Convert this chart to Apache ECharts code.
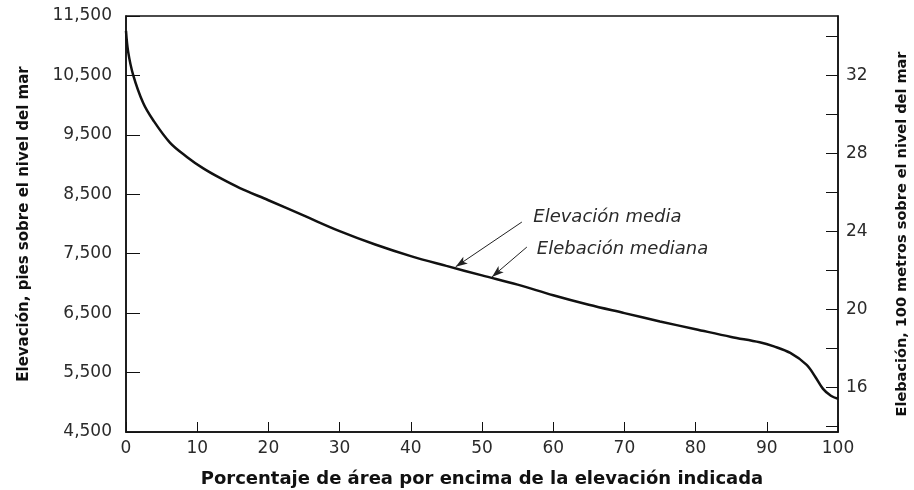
<!DOCTYPE html>
<html>
<head>
<meta charset="utf-8">
<script src="https://cdn.jsdelivr.net/npm/echarts@6/dist/echarts.min.js"></script>
<style>
html,body{margin:0;padding:0;background:#fff;}
#chart{width:914px;height:490px;}
</style>
</head>
<body>
<div id="chart"></div>
<script>
// Percent of area above the indicated elevation (x) and elevation in feet (y)
var areaPercent = [0, 0.3, 1, 2.4, 3.8, 6.2, 8.6, 10.8, 13.2, 16, 20, 25, 30, 35, 40, 45, 50, 55, 60, 65, 70, 75, 80, 85, 89, 91, 93.3, 95.6, 96.8, 97.9, 99, 100];
var elevationFt = [11250, 10900, 10510, 10040, 9750, 9365, 9125, 8940, 8775, 8605, 8400, 8140, 7880, 7655, 7460, 7295, 7135, 6980, 6800, 6640, 6500, 6360, 6230, 6100, 6010, 5940, 5830, 5630, 5430, 5225, 5110, 5060];

var xTickLabels = ['0','10','20','30','40','50','60','70','80','90','100'];
var leftTickLabels = ['4,500','5,500','6,500','7,500','8,500','9,500','10,500','11,500'];
var rightTickLabels = ['16','20','24','28','32'];

var ftMin = 4500, ftMax = 11500;
var ftToHm = 0.3048 / 100; // feet -> hundreds of metres

var annotationTexts = ['Elevación media', 'Elebación mediana'];
// [text anchor, arrow start, arrow tip] in (percent, feet)
var annotationText1 = [57.2, 8117], annotationFrom1 = [55.6, 8033], annotationTo1 = [46.3, 7280];
var annotationText2 = [57.7, 7579], annotationFrom2 = [56.3, 7612], annotationTo2 = [51.4, 7110];

var data = areaPercent.map(function (p, i) { return [p, elevationFt[i]]; });

var FONT = 'DejaVu Sans';
var chart = echarts.init(document.getElementById('chart'));
chart.setOption({
  animation: false,
  backgroundColor: '#ffffff',
  grid: { left: 126, right: 76, top: 16, bottom: 58, containLabel: false, outerBoundsMode: 'none',
    show: true, borderColor: '#111', borderWidth: 1.5, backgroundColor: 'transparent' },
  xAxis: {
    type: 'value', min: 0, max: 100, interval: 10,
    splitLine: { show: false },
    axisLine: { show: true, lineStyle: { color: '#111', width: 1.5 } },
    axisTick: { show: true, inside: true, length: 10, lineStyle: { color: '#111', width: 1 } },
    axisLabel: { margin: 8, color: '#2a2a2a', fontFamily: FONT, fontSize: 17,
      formatter: function (v) { return xTickLabels[Math.round(v / 10)]; } },
    name: 'Porcentaje de área por encima de la elevación indicada',
    nameLocation: 'middle', nameGap: 38,
    nameTextStyle: { color: '#111', fontFamily: FONT, fontWeight: 'bold', fontSize: 18, verticalAlign: 'top' }
  },
  yAxis: [
    { // data axis (feet)
      type: 'value', min: ftMin, max: ftMax, position: 'left',
      splitLine: { show: false },
      axisLine: { show: true, onZero: false, lineStyle: { color: '#111', width: 1.5 } },
      axisTick: { show: false }, axisLabel: { show: false }
    },
    { // right axis (hundreds of metres)
      type: 'value', min: ftMin * ftToHm, max: ftMax * ftToHm, splitNumber: 10, position: 'right',
      splitLine: { show: false },
      axisLine: { show: true, onZero: false, lineStyle: { color: '#111', width: 1.5 } },
      axisTick: { show: true, inside: true, length: 12, lineStyle: { color: '#111', width: 1 } },
      axisLabel: { margin: 8, color: '#2a2a2a', fontFamily: FONT, fontSize: 17,
        showMinLabel: false, showMaxLabel: false,
        formatter: function (v) {
          var s = String(Math.round(v));
          return (Math.abs(v - Math.round(v)) < 1e-6 && rightTickLabels.indexOf(s) >= 0) ? s : '';
        } },
      name: 'Elebación, 100 metros sobre el nivel del mar',
      nameLocation: 'middle', nameGap: 57, nameRotate: 90,
      nameTextStyle: { color: '#111', fontFamily: FONT, fontWeight: 'bold', fontSize: 14.5, padding: [0, 20, 0, 0] }
    },
    { // left tick/label axis: feet above 4,500
      type: 'value', min: 0, max: ftMax - ftMin, interval: 1000, position: 'left',
      splitLine: { show: false },
      axisLine: { show: false },
      axisTick: { show: true, inside: true, length: 14, lineStyle: { color: '#111', width: 1 } },
      axisLabel: { margin: 14, color: '#2a2a2a', fontFamily: FONT, fontSize: 17,
        formatter: function (v) { return leftTickLabels[Math.round(v / 1000)]; } },
      name: 'Elevación, pies sobre el nivel del mar',
      nameLocation: 'middle', nameGap: 94, nameRotate: 90,
      nameTextStyle: { color: '#111', fontFamily: FONT, fontWeight: 'bold', fontSize: 15 }
    }
  ],
  series: [{
    type: 'line', data: data, yAxisIndex: 0, smooth: 0.35, showSymbol: false,
    lineStyle: { color: '#111', width: 2.5 },
    markLine: {
      silent: true, symbol: ['none', 'arrow'], symbolSize: [6, 12],
      lineStyle: { color: '#222', width: 1, type: 'solid' },
      label: { show: false },
      data: [
        [{ coord: annotationFrom1 }, { coord: annotationTo1 }],
        [{ coord: annotationFrom2 }, { coord: annotationTo2 }]
      ]
    },
    markPoint: {
      silent: true, symbol: 'circle', symbolSize: 0,
      label: { show: true, position: 'right', distance: 0, color: '#2a2a2a', fontFamily: FONT, fontStyle: 'italic', fontSize: 18 },
      data: [
        { coord: annotationText1, value: annotationTexts[0], label: { formatter: annotationTexts[0] } },
        { coord: annotationText2, value: annotationTexts[1], label: { formatter: annotationTexts[1] } }
      ]
    }
  }]
});
</script>
</body>
</html>
